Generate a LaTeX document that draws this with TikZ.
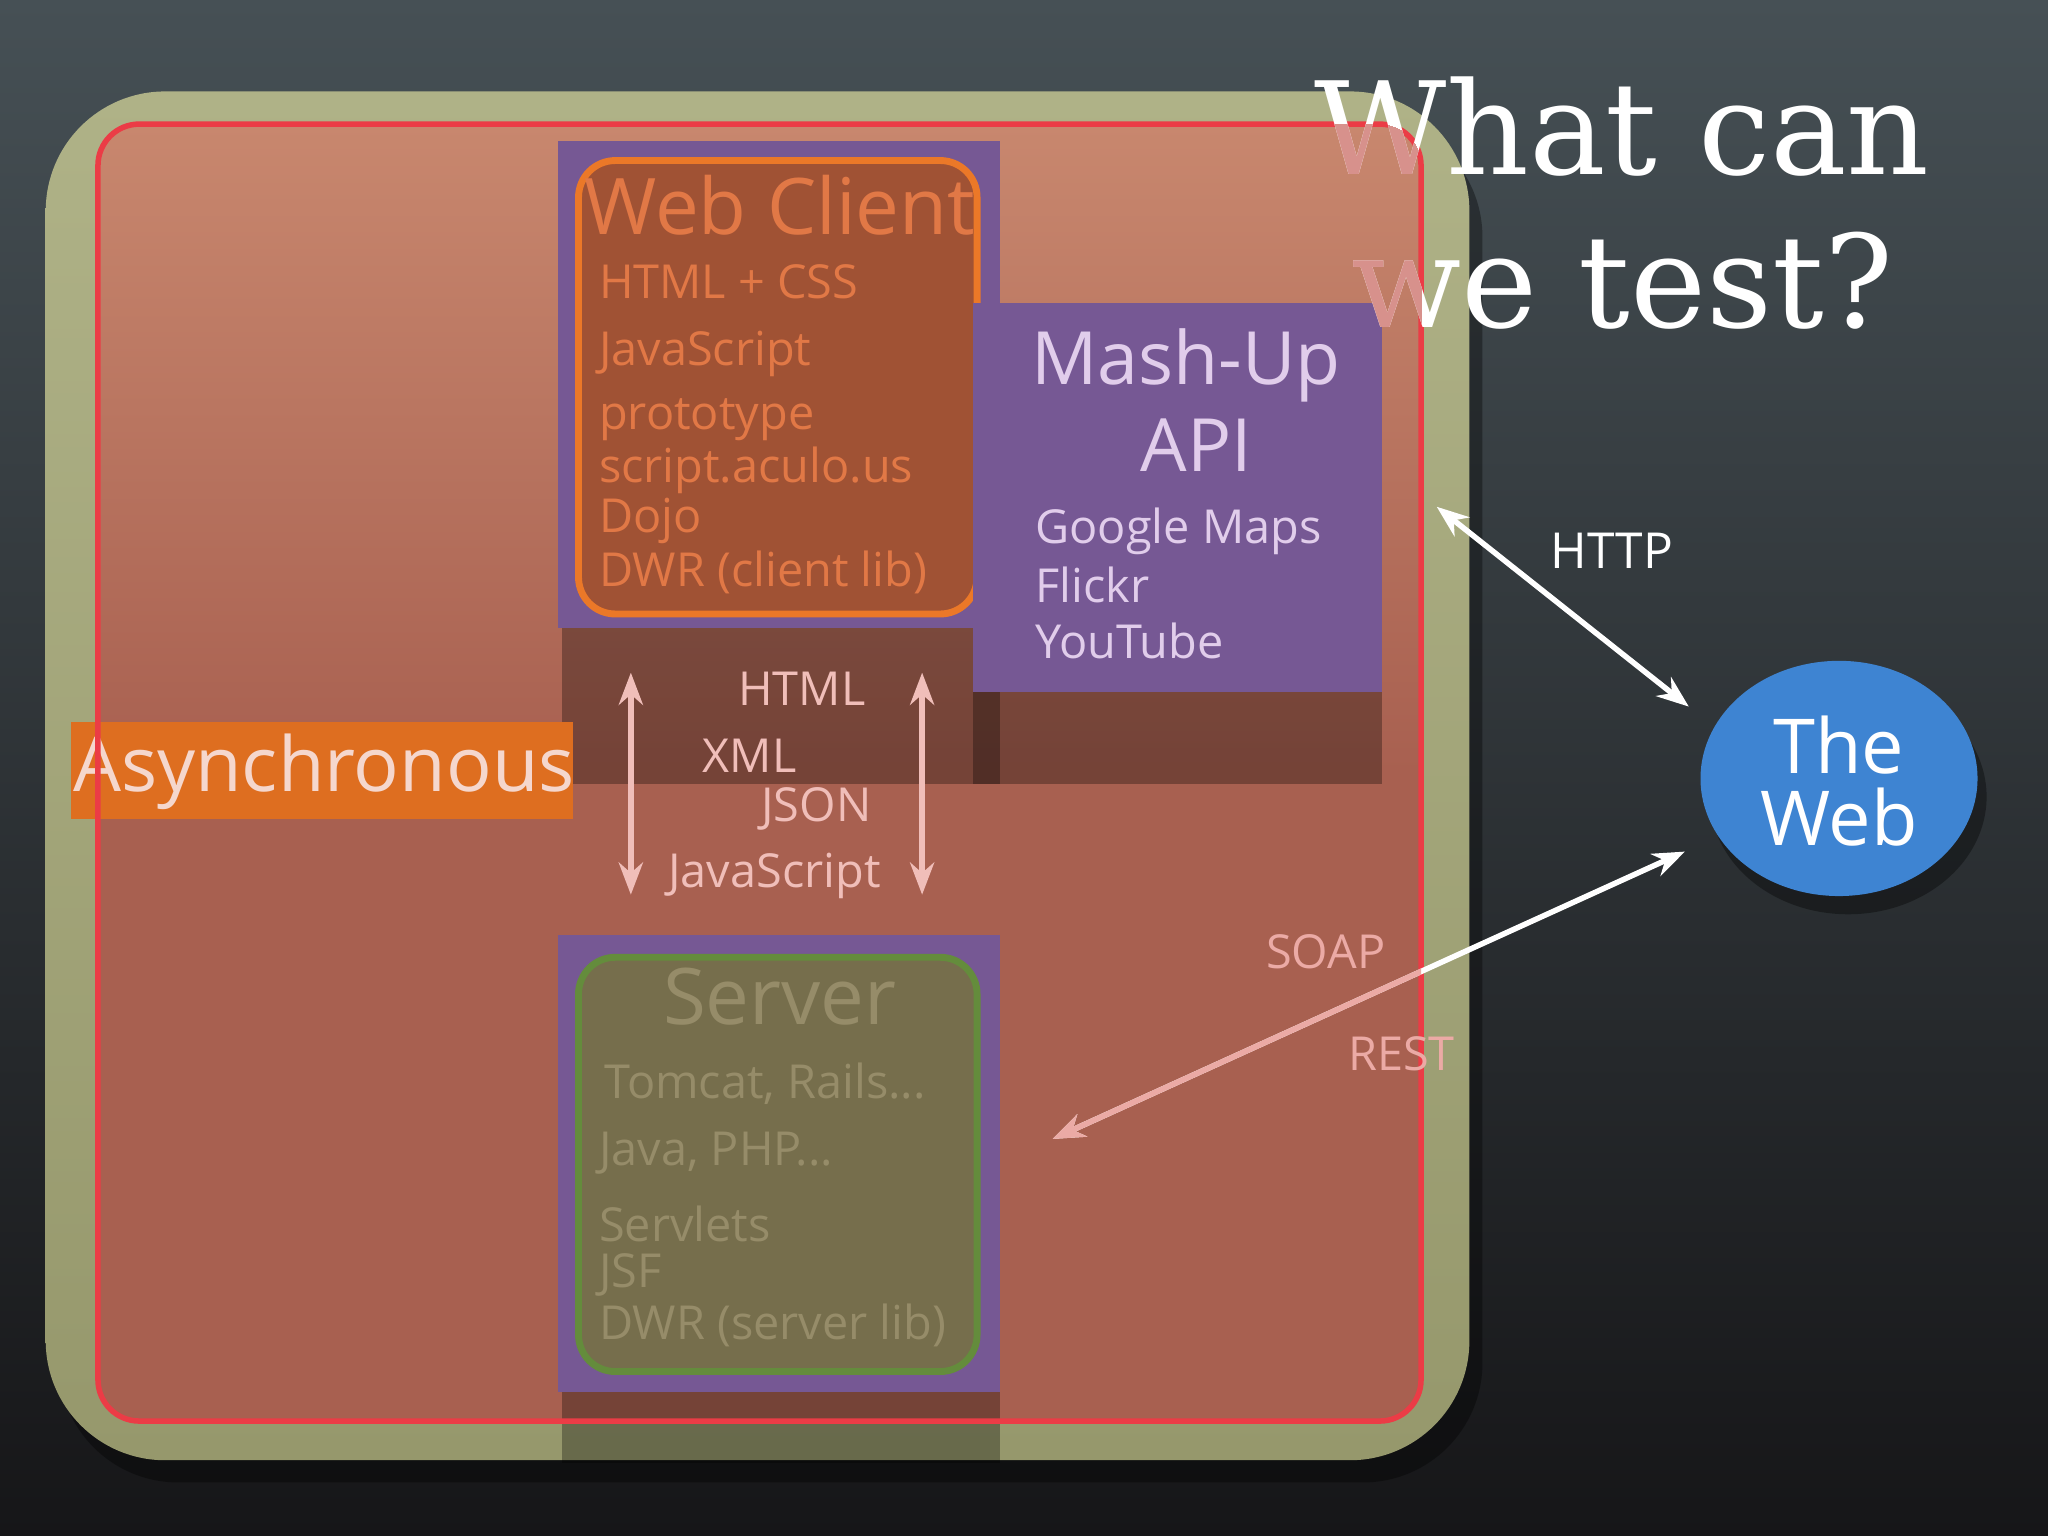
\documentclass[tikz,border=0pt]{standalone}
\usepackage{fontspec}
\setmainfont{Open Sans}
\newfontfamily\titlefont{DejaVu Serif}
\usetikzlibrary{arrows.meta,shapes.geometric}
\definecolor{olivebg}{RGB}{165,168,122}
\definecolor{redarea}{RGB}{168,96,80}
\definecolor{redline}{RGB}{235,60,70}
\definecolor{purplebox}{RGB}{118,88,148}
\definecolor{clientfill}{RGB}{160,82,52}
\definecolor{clientline}{RGB}{235,120,40}
\definecolor{clienttxt}{RGB}{225,120,70}
\definecolor{mashtxt}{RGB}{225,205,235}
\definecolor{asyncfill}{RGB}{222,110,32}
\definecolor{asynctxt}{RGB}{245,215,205}
\definecolor{pinktxt}{RGB}{240,190,185}
\definecolor{serverfill}{RGB}{118,110,76}
\definecolor{serverline}{RGB}{100,140,60}
\definecolor{servertxt}{RGB}{150,140,105}
\definecolor{webblue}{RGB}{62,132,210}
\definecolor{soaptxt}{RGB}{235,170,165}
\tikzset{
  fs/.style={font=\fontsize{#1}{#1}\selectfont},
  listtxt/.style={anchor=west,fs=10.2,inner sep=0},
  pinkarrow/.style={draw=pinktxt,line width=1.2pt,{Stealth[length=7pt]}-{Stealth[length=7pt]}},
  whitearrow/.style={draw=white,line width=1.2pt,{Stealth[length=7pt]}-{Stealth[length=7pt]}},
}
\begin{document}
\begin{tikzpicture}[x=0.01cm,y=-0.01cm]
\shade[top color={rgb,255:red,70;green,80;blue,85},bottom color={rgb,255:red,22;green,22;blue,24}] (0,0) rectangle (1568,1176);
\useasboundingbox (0,0) rectangle (1568,1176);
% olive square
\fill[black,opacity=0.35,rounded corners=26pt] (45,90) rectangle (1135,1135);
\shade[rounded corners=26pt,top color={rgb,255:red,175;green,178;blue,135},bottom color={rgb,255:red,150;green,152;blue,108}] (35,70) rectangle (1125,1118);
% red area
\shade[rounded corners=9pt,top color={rgb,255:red,200;green,135;blue,110},bottom color=redarea,middle color=redarea] (75,95) rectangle (1088,1088);
% shadows
\fill[black,opacity=0.3] (430,481) rectangle (766,600);
\fill[black,opacity=0.3] (745,530) rectangle (1058,600);
\fill[black,opacity=0.3] (430,1066) rectangle (766,1120);
% web client
\fill[purplebox] (427,108) rectangle (766,481);
\node[draw=clientline,line width=1.5pt,fill=clientfill,rounded corners=8pt,minimum width=305*0.2845pt,minimum height=347*0.2845pt,inner sep=0] (client) at (595.5,296.5) {};
\node[fs=17,text=clienttxt] (clienttitle) at (597,157) {Web Client};
\node[listtxt,text=clienttxt] (c1) at (458,216) {HTML + CSS};
\node[listtxt,text=clienttxt] (c2) at (458,271) {JavaScript};
\node[listtxt,text=clienttxt] (c3) at (458,321) {prototype};
\node[listtxt,text=clienttxt] (c4) at (458,360) {script.aculo.us};
\node[listtxt,text=clienttxt] (c5) at (458,399) {Dojo};
\node[listtxt,text=clienttxt] (c6) at (458,438) {DWR (client lib)};
% mashup
\fill[purplebox] (745,232) rectangle (1058,530);
\node[fs=16,text=mashtxt] (mash1) at (908,280) {Mash-Up};
\node[fs=16,text=mashtxt] (mash2) at (916,341) {API};
\node[listtxt,text=mashtxt] (m1) at (792,407) {Google Maps};
\node[listtxt,text=mashtxt] (m2) at (792,448) {Flickr};
\node[listtxt,text=mashtxt] (m3) at (792,491) {YouTube};
% asynchronous
\fill[asyncfill] (54,553) rectangle (439,627);
\node[fs=16.5,text=asynctxt] (async) at (248,591) {Asynchronous};
% arrows between
\coordinate (a1t) at (483,515); \coordinate (a1b) at (483,685);
\coordinate (a2t) at (706,515); \coordinate (a2b) at (706,685);
\draw[pinkarrow] (a1t) -- (a1b);
\draw[pinkarrow] (a2t) -- (a2b);
\node[fs=10.2,text=pinktxt] (t1) at (614,527) {HTML};
\node[fs=10.2,text=pinktxt] (t2) at (574,579) {XML};
\node[fs=10.2,text=pinktxt] (t3) at (625,619) {JSON};
\node[fs=10.2,text=pinktxt] (t4) at (593,671) {JavaScript};
% server
\fill[purplebox] (427,716) rectangle (766,1066);
\node[draw=serverline,line width=1.5pt,fill=serverfill,rounded corners=8pt,minimum width=305*0.2845pt,minimum height=317*0.2845pt,inner sep=0] (server) at (595.5,891.5) {};
\node[fs=17,text=servertxt] (servertitle) at (597,763) {Server};
\node[listtxt,text=servertxt] (s1) at (462,830) {Tomcat, Rails...};
\node[listtxt,text=servertxt] (s2) at (458,883) {Java, PHP...};
\node[listtxt,text=servertxt] (s3) at (458,937) {Servlets};
\node[listtxt,text=servertxt] (s4) at (458,976) {JSF};
\node[listtxt,text=servertxt] (s5) at (458,1015) {DWR (server lib)};
% red border
\draw[redline,line width=1.2pt,rounded corners=9pt] (75,95) rectangle (1088,1088);
% the web
\fill[black,opacity=0.35] (1415,610) ellipse [x radius=106,y radius=90];
\node[ellipse,fill=webblue,minimum width=212*0.2845pt,minimum height=180*0.2845pt,inner sep=0] (web) at (1408,596) {};
\node[fs=16.5,text=white,align=center] (webtxt) at (1408,598) {The\\[-1pt]Web};
% http
\coordinate (h1) at (1100,388); \coordinate (h2) at (1293,541);
\draw[whitearrow] (h1) -- (h2);
\node[fs=10.8,text=white] (http) at (1234,422) {HTTP};
% soap
\coordinate (p1) at (1290,652); \coordinate (p2) at (806,872);
\draw[whitearrow] (p1) -- (p2);
\begin{scope}
\clip[rounded corners=9pt] (75,95) rectangle (1088,1088);
\draw[draw=soaptxt,line width=1.2pt,-{Stealth[length=7pt]}] (p1) -- (p2);
\end{scope}
\node[fs=10.2,text=soaptxt] (soap) at (1015,729) {SOAP};
\node[fs=10.2,text=soaptxt] (rest) at (1073,807) {REST};
% title
\node[fs=28,text=white,anchor=east] (title1) at (1490,97) {\titlefont What can};
\node[fs=28,text=white,anchor=east] (title2) at (1462,215) {\titlefont we test?};
\begin{scope}
\clip[rounded corners=9pt] (75,95) rectangle (1088,1088);
\node[fs=28,text={rgb,255:red,215;green,145;blue,140},anchor=east] at (1490,97) {\titlefont What can};
\node[fs=28,text={rgb,255:red,215;green,145;blue,140},anchor=east] at (1462,215) {\titlefont we test?};
\end{scope}
\end{tikzpicture}
\end{document}
